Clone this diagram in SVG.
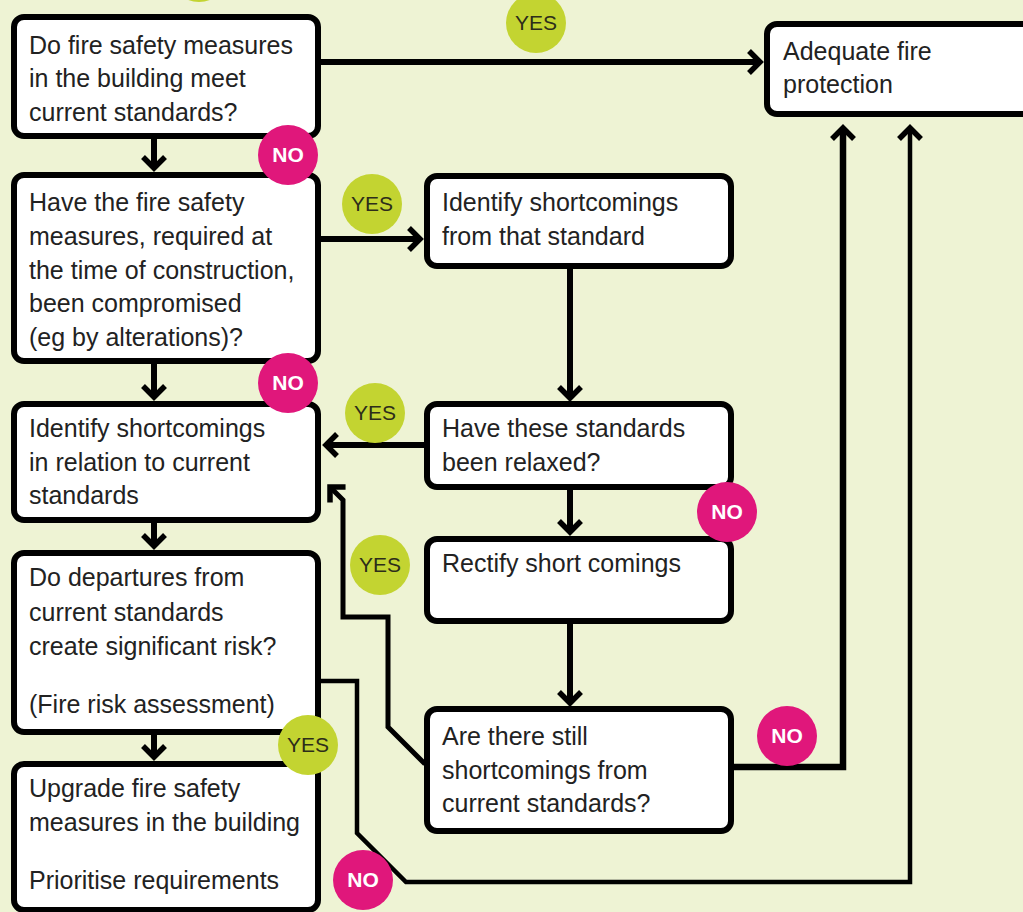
<svg xmlns="http://www.w3.org/2000/svg" width="1023" height="912" viewBox="0 0 1023 912">
<style>
.box{fill:#fff;stroke:#000;stroke-width:6}
.t{font-family:"Liberation Sans",Arial,sans-serif;font-size:25px;fill:#222}
.ln{fill:none;stroke:#000;stroke-width:6;stroke-linejoin:miter}
.yes{fill:#c3d431}
.no{fill:#e0177b}
.by{font-family:"Liberation Sans",Arial,sans-serif;font-size:21px;fill:#2d2d1a;text-anchor:middle}
.bn{font-family:"Liberation Sans",Arial,sans-serif;font-size:21px;fill:#fff;text-anchor:middle;font-weight:bold}
</style>
<defs>
<marker id="ah" markerUnits="userSpaceOnUse" viewBox="-16 -16 20 32" markerWidth="20" markerHeight="32" refX="0" refY="0" orient="auto">
<path d="M -11 -11 L 0 0 L -11 11" fill="none" stroke="#000" stroke-width="5.5"/>
</marker>
</defs>
<rect width="1023" height="912" fill="#eef3d4"/>
<circle class="yes" cx="199" cy="-28" r="30"/>

<g id="connectors">
<path class="ln" d="M 154 138 L 154 168" marker-end="url(#ah)"/>
<path class="ln" d="M 154 363 L 154 397" marker-end="url(#ah)"/>
<path class="ln" d="M 154 522 L 154 546" marker-end="url(#ah)"/>
<path class="ln" d="M 154 734 L 154 757" marker-end="url(#ah)"/>
<path class="ln" d="M 320 62 L 760 62" marker-end="url(#ah)"/>
<path class="ln" d="M 320 239 L 420 239" marker-end="url(#ah)"/>
<path class="ln" d="M 570 268 L 570 398" marker-end="url(#ah)"/>
<path class="ln" d="M 425 445 L 326 445" marker-end="url(#ah)"/>
<path class="ln" d="M 570 489 L 570 532" marker-end="url(#ah)"/>
<path class="ln" d="M 570 623 L 570 703" marker-end="url(#ah)"/>
<path class="ln" style="stroke-width:5" d="M 425 764 L 388 727 L 388 617 L 343 617 L 343 500 L 330 487" marker-end="url(#ah)"/>
<path class="ln" style="stroke-width:4.5" d="M 320 681 L 357 681 L 357 833 L 406 882 L 910 882 L 910 128" marker-end="url(#ah)"/>
<path class="ln" style="stroke-width:6.5" d="M 733 767 L 843 767 L 843 128" marker-end="url(#ah)"/>
</g>

<g id="n1">
<rect class="box" x="14" y="17" width="304" height="119" rx="10"/>
<text class="t" x="29" y="54">Do fire safety measures</text>
<text class="t" x="29" y="87">in the building meet</text>
<text class="t" x="29" y="121">current standards?</text>
</g>
<g id="n2">
<rect class="box" x="14" y="175" width="304" height="186" rx="10"/>
<text class="t" x="29" y="211">Have the fire safety</text>
<text class="t" x="29" y="245">measures, required at</text>
<text class="t" x="29" y="279">the time of construction,</text>
<text class="t" x="29" y="312">been compromised</text>
<text class="t" x="29" y="346">(eg by alterations)?</text>
</g>
<g id="n3">
<rect class="box" x="14" y="404" width="304" height="116" rx="10"/>
<text class="t" x="29" y="437">Identify shortcomings</text>
<text class="t" x="29" y="471">in relation to current</text>
<text class="t" x="29" y="504">standards</text>
</g>
<g id="n4">
<rect class="box" x="14" y="553" width="304" height="179" rx="10"/>
<text class="t" x="29" y="586">Do departures from</text>
<text class="t" x="29" y="621">current standards</text>
<text class="t" x="29" y="655">create significant risk?</text>
<text class="t" x="29" y="713">(Fire risk assessment)</text>
</g>
<g id="n5">
<rect class="box" x="14" y="764" width="304" height="146" rx="10"/>
<text class="t" x="29" y="797">Upgrade fire safety</text>
<text class="t" x="29" y="831">measures in the building</text>
<text class="t" x="29" y="889">Prioritise requirements</text>
</g>
<g id="n6">
<rect class="box" x="427" y="176" width="304" height="90" rx="10"/>
<text class="t" x="442" y="211">Identify shortcomings</text>
<text class="t" x="442" y="245">from that standard</text>
</g>
<g id="n7">
<rect class="box" x="427" y="404" width="304" height="83" rx="10"/>
<text class="t" x="442" y="437">Have these standards</text>
<text class="t" x="442" y="471">been relaxed?</text>
</g>
<g id="n8">
<rect class="box" x="427" y="539" width="304" height="82" rx="10"/>
<text class="t" x="442" y="572">Rectify short comings</text>
</g>
<g id="n9">
<rect class="box" x="427" y="709" width="304" height="122" rx="10"/>
<text class="t" x="442" y="745">Are there still</text>
<text class="t" x="442" y="779">shortcomings from</text>
<text class="t" x="442" y="812">current standards?</text>
</g>
<g id="n10">
<rect class="box" x="767" y="24" width="280" height="90" rx="10"/>
<text class="t" x="783" y="60">Adequate fire</text>
<text class="t" x="783" y="93">protection</text>
</g>

<g id="badges">
<circle class="yes" cx="536" cy="23" r="30"/><text class="by" x="536" y="30">YES</text>
<circle class="no" cx="288" cy="155" r="30"/><text class="bn" x="288" y="162">NO</text>
<circle class="yes" cx="372" cy="204" r="30"/><text class="by" x="372" y="211">YES</text>
<circle class="no" cx="288" cy="383" r="30"/><text class="bn" x="288" y="390">NO</text>
<circle class="yes" cx="375" cy="413" r="30"/><text class="by" x="375" y="420">YES</text>
<circle class="no" cx="727" cy="512" r="30"/><text class="bn" x="727" y="519">NO</text>
<circle class="yes" cx="380" cy="565" r="30"/><text class="by" x="380" y="572">YES</text>
<circle class="yes" cx="308" cy="745" r="30"/><text class="by" x="308" y="752">YES</text>
<circle class="no" cx="363" cy="880" r="30"/><text class="bn" x="363" y="887">NO</text>
<circle class="no" cx="787" cy="736" r="30"/><text class="bn" x="787" y="743">NO</text>
</g>
</svg>
